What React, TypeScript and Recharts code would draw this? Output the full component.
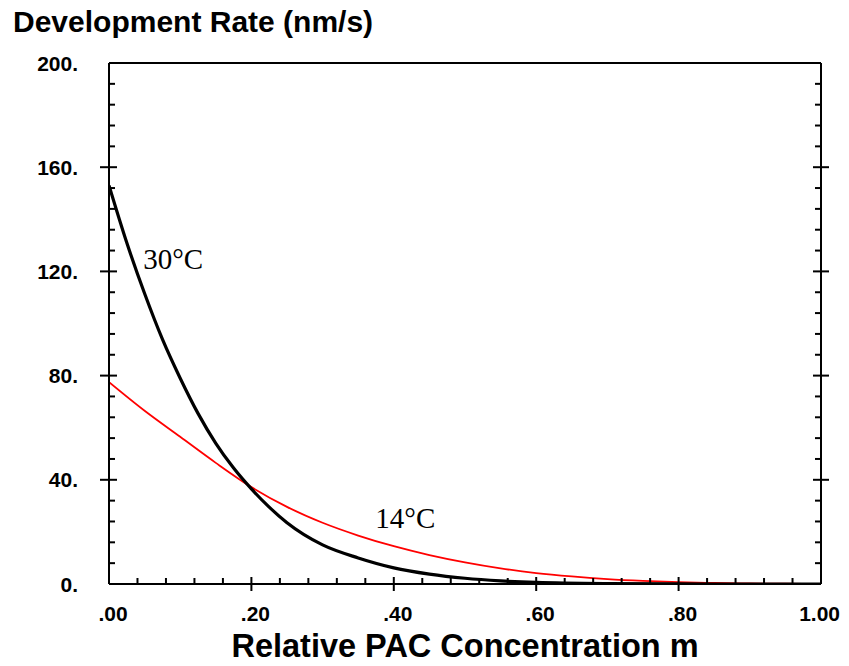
import { LineChart, Line, XAxis, YAxis, ReferenceDot } from 'recharts';

// Relative PAC concentration m vs development rate (nm/s)
const mHot = [0, 0.025, 0.05, 0.075, 0.1, 0.125, 0.15, 0.175, 0.2, 0.225, 0.25, 0.3, 0.35, 0.4, 0.45, 0.5, 0.55, 0.6, 0.7, 0.8, 0.9, 1.0];
const rateHot = [153, 131, 111.5, 94, 79, 65.5, 54, 44.5, 36.5, 29.5, 23.5, 15, 10, 6.2, 3.8, 2.2, 1.2, 0.6, 0.15, 0.03, 0, 0];

const mCold = [0, 0.05, 0.1, 0.15, 0.2, 0.25, 0.3, 0.35, 0.4, 0.45, 0.5, 0.55, 0.6, 0.65, 0.7, 0.75, 0.8, 0.85, 0.9, 0.95, 1.0];
const rateCold = [77.5, 66.5, 56.5, 46.5, 37.2, 29.6, 23.5, 18.6, 14.5, 11.1, 8.3, 6.0, 4.2, 2.9, 1.9, 1.2, 0.7, 0.4, 0.2, 0.1, 0];

const xTicks = [0, 0.04, 0.08, 0.12, 0.16, 0.2, 0.24, 0.28, 0.32, 0.36, 0.4, 0.44, 0.48, 0.52, 0.56, 0.6, 0.64, 0.68, 0.72, 0.76, 0.8, 0.84, 0.88, 0.92, 0.96, 1.0];
const xTickLabels = ['.00', '.20', '.40', '.60', '.80', '1.00'];
const yTicks = [0, 8, 16, 24, 32, 40, 48, 56, 64, 72, 80, 88, 96, 104, 112, 120, 128, 136, 144, 152, 160, 168, 176, 184, 192, 200];
const yTickLabels = ['0.', '40.', '80.', '120.', '160.', '200.'];

const curveLabels = [
  { text: '30°C', m: 0.048, rate: 121 },
  { text: '14°C', m: 0.374, rate: 21.5 },
];

const hotData = mHot.map((m, i) => ({ m, rate: rateHot[i] }));
const coldData = mCold.map((m, i) => ({ m, rate: rateCold[i] }));

const sans = '"Liberation Sans", Arial, sans-serif';
const serif = '"Liberation Serif", "Times New Roman", serif';

const isMajorX = (v: number) => Math.abs(v * 5 - Math.round(v * 5)) < 1e-6;
const isMajorY = (v: number) => v % 40 === 0;

function XTick({ x, y, payload }: any) {
  const v = payload.value;
  if (!isMajorX(v)) {
    return <line x1={x} x2={x} y1={y} y2={y - 6} stroke="#000" strokeWidth={2} />;
  }
  const last = v > 1 - 1e-6;
  const edge = v < 1e-6 || last;
  return (
    <g>
      {!edge && <line x1={x} x2={x} y1={y + 7} y2={y - 7} stroke="#000" strokeWidth={2} />}
      <text
        x={last ? x + 19 : x + 4}
        y={y + 37}
        textAnchor={last ? 'end' : 'middle'}
        fontFamily={sans}
        fontWeight="bold"
        fontSize={21}
        fill="#000"
      >
        {xTickLabels[Math.round(v * 5)]}
      </text>
    </g>
  );
}

function YTick({ x, y, payload }: any) {
  const v = payload.value;
  if (!isMajorY(v)) {
    return <line x1={x} x2={x + 6} y1={y} y2={y} stroke="#000" strokeWidth={2} />;
  }
  const edge = v === 0 || v === 200;
  return (
    <g>
      {!edge && <line x1={x - 9} x2={x + 8} y1={y} y2={y} stroke="#000" strokeWidth={2} />}
      <text x={x - 31} y={y + 7.5} textAnchor="end" fontFamily={sans} fontWeight="bold" fontSize={21} fill="#000">
        {yTickLabels[v / 40]}
      </text>
    </g>
  );
}

function YTickRight({ x, y, payload }: any) {
  const v = payload.value;
  if (v === 0 || v === 200) return <g />;
  if (!isMajorY(v)) {
    return <line x1={x} x2={x - 6} y1={y} y2={y} stroke="#000" strokeWidth={2} />;
  }
  return <line x1={x - 8} x2={x + 8} y1={y} y2={y} stroke="#000" strokeWidth={2} />;
}

function CurveLabel({ viewBox, value }: any) {
  return (
    <text x={viewBox.x} y={viewBox.y} fontFamily={serif} fontSize={29} fill="#000">
      {value}
    </text>
  );
}

function XTitle({ viewBox }: any) {
  return (
    <text
      x={viewBox.x + viewBox.width / 2}
      y={viewBox.y + 73}
      textAnchor="middle"
      fontFamily={sans}
      fontWeight="bold"
      fontSize={32.5}
      fill="#000"
    >
      Relative PAC Concentration m
    </text>
  );
}

export default function App() {
  return (
    <div style={{ position: 'relative', width: 833, height: 650 }}>
      <style>{'.recharts-surface, .recharts-wrapper { overflow: visible !important; }'}</style>
      <div
        style={{
          position: 'absolute',
          left: 5,
          top: -1,
          fontFamily: sans,
          fontWeight: 'bold',
          fontSize: 30,
          lineHeight: '30px',
          whiteSpace: 'nowrap',
        }}
      >
        Development Rate (nm/s)
      </div>
      <LineChart width={833} height={650} margin={{ top: 54, right: 0, bottom: 0, left: 0 }}>
        <XAxis
          xAxisId="b"
          dataKey="m"
          type="number"
          domain={[0, 1]}
          ticks={xTicks}
          interval={0}
          height={74}
          tickSize={0}
          tickMargin={0}
          tick={<XTick />}
          axisLine={{ stroke: '#000', strokeWidth: 2 }}
          allowDataOverflow
          label={<XTitle />}
        />
        <XAxis
          xAxisId="t"
          orientation="top"
          dataKey="m"
          type="number"
          domain={[0, 1]}
          height={1}
          tick={false}
          tickLine={false}
          axisLine={{ stroke: '#000', strokeWidth: 2 }}
        />
        <YAxis
          yAxisId="l"
          type="number"
          domain={[0, 200]}
          ticks={yTicks}
          interval={0}
          width={101}
          tickSize={0}
          tickMargin={0}
          tick={<YTick />}
          axisLine={{ stroke: '#000', strokeWidth: 2 }}
          allowDataOverflow
        />
        <YAxis
          yAxisId="r"
          orientation="right"
          type="number"
          domain={[0, 200]}
          ticks={yTicks}
          interval={0}
          width={20}
          tickSize={0}
          tickMargin={0}
          tick={<YTickRight />}
          axisLine={{ stroke: '#000', strokeWidth: 2 }}
        />
        <Line
          xAxisId="t"
          yAxisId="r"
          data={coldData}
          dataKey="rate"
          stroke="none"
          dot={false}
          activeDot={false}
          legendType="none"
          isAnimationActive={false}
        />
        <Line
          xAxisId="b"
          yAxisId="l"
          data={coldData}
          dataKey="rate"
          type="monotone"
          stroke="#ff0000"
          strokeWidth={1.8}
          dot={false}
          isAnimationActive={false}
        />
        <Line
          xAxisId="b"
          yAxisId="l"
          data={hotData}
          dataKey="rate"
          type="monotone"
          stroke="#000"
          strokeWidth={3.2}
          dot={false}
          isAnimationActive={false}
        />
        {curveLabels.map((c) => (
          <ReferenceDot
            key={c.text}
            xAxisId="b"
            yAxisId="l"
            x={c.m}
            y={c.rate}
            r={0}
            stroke="none"
            fill="none"
            label={<CurveLabel value={c.text} />}
          />
        ))}
      </LineChart>
    </div>
  );
}
